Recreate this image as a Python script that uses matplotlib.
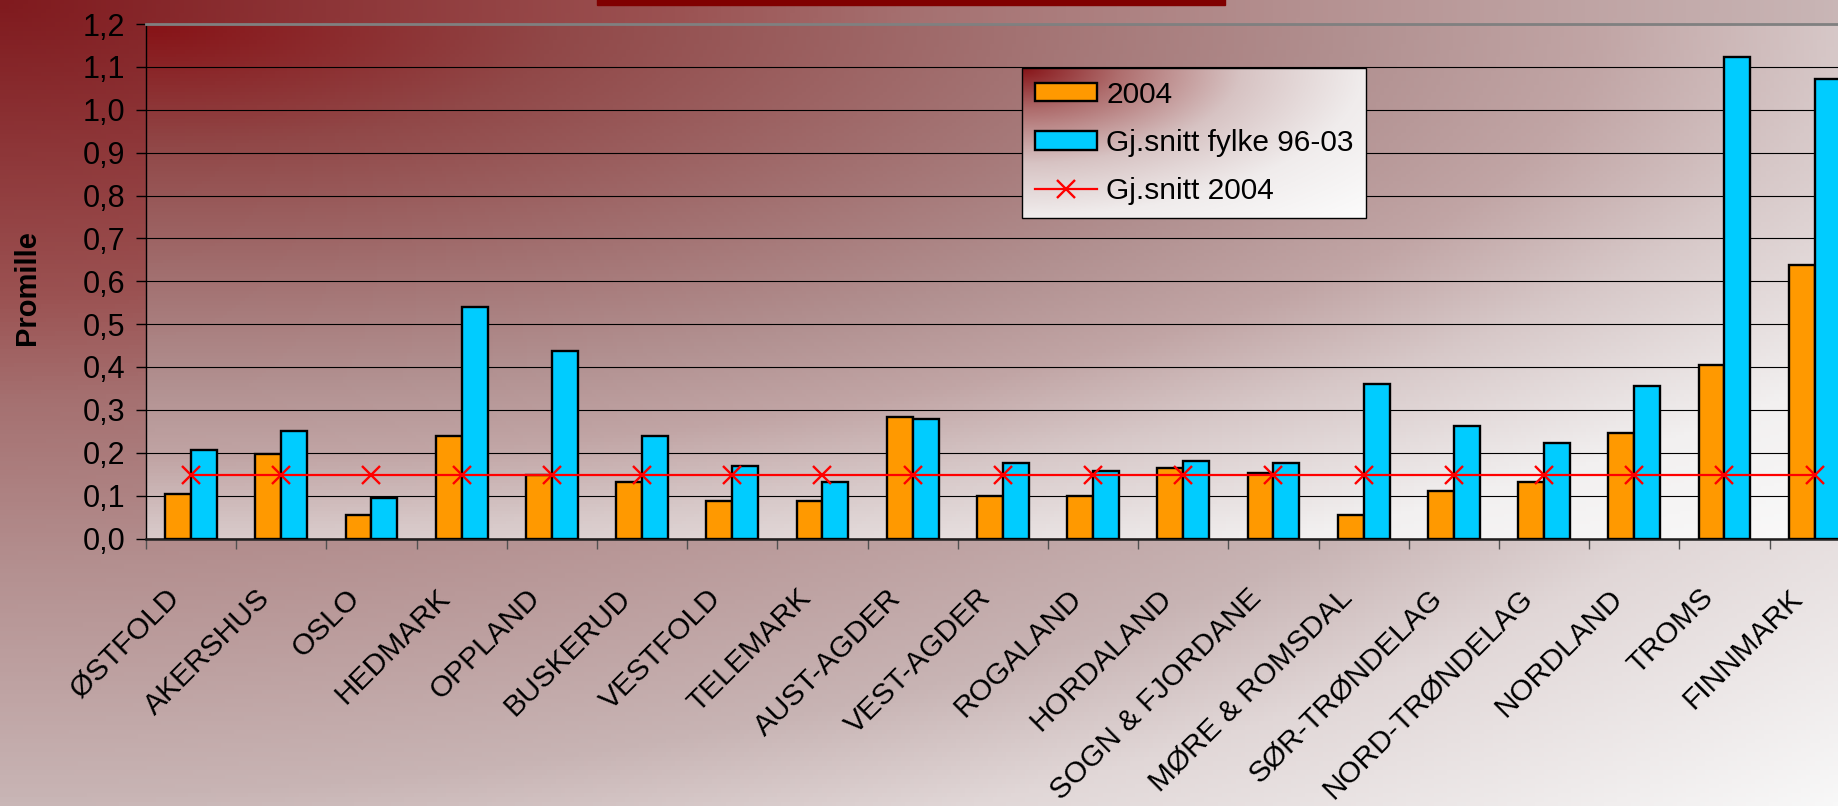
import numpy as np
import matplotlib
matplotlib.use("Agg")
import matplotlib.pyplot as plt
from matplotlib.transforms import ScaledTranslation
from matplotlib.patches import Rectangle, Patch
from matplotlib.lines import Line2D

plt.rcParams['font.family'] = ['Liberation Sans', 'DejaVu Sans']

categories = ["ØSTFOLD", "AKERSHUS", "OSLO", "HEDMARK", "OPPLAND", "BUSKERUD",
              "VESTFOLD", "TELEMARK", "AUST-AGDER", "VEST-AGDER", "ROGALAND",
              "HORDALAND", "SOGN & FJORDANE", "MØRE & ROMSDAL", "SØR-TRØNDELAG",
              "NORD-TRØNDELAG", "NORDLAND", "TROMS", "FINNMARK"]
values_2004 = [0.104, 0.196, 0.055, 0.240, 0.148, 0.131, 0.088, 0.088, 0.284, 0.099,
               0.099, 0.164, 0.153, 0.055, 0.110, 0.132, 0.245, 0.405, 0.638]
values_avg_96_03 = [0.207, 0.251, 0.094, 0.541, 0.437, 0.240, 0.169, 0.131, 0.279, 0.175,
                    0.158, 0.180, 0.175, 0.361, 0.262, 0.222, 0.355, 1.122, 1.072]
mean_2004 = 0.148
yticks = [0.0, 0.1, 0.2, 0.3, 0.4, 0.5, 0.6, 0.7, 0.8, 0.9, 1.0, 1.1, 1.2]
ytick_labels = ["0,0", "0,1", "0,2", "0,3", "0,4", "0,5", "0,6", "0,7", "0,8", "0,9", "1,0", "1,1", "1,2"]
legend_labels = ["2004", "Gj.snitt fylke 96-03", "Gj.snitt 2004"]

W, H = 1838, 806
fig = plt.figure(figsize=(W / 100, H / 100), dpi=100)


def gradient(nx, ny, pos, cols):
    u = np.linspace(0, 1, nx)
    v = np.linspace(0, 1, ny)
    U, V = np.meshgrid(u, v)
    r = np.sqrt(U ** 2 + V ** 2) / np.sqrt(2)
    cols = np.array(cols, dtype=float) / 255.0
    img = np.zeros((ny, nx, 3))
    for c in range(3):
        img[..., c] = np.interp(r, pos, cols[:, c])
    return img


fig_pos = [0.0, 0.26, 0.35, 0.5, 0.7, 0.8, 1.0]
fig_cols = [(128, 26, 30), (155, 82, 82), (165, 112, 112), (180, 144, 144),
            (200, 180, 180), (225, 215, 215), (248, 248, 248)]
plot_pos = [0.0, 0.17, 0.35, 0.5, 0.6, 0.7, 0.85, 1.0]
plot_cols = [(135, 18, 22), (145, 72, 72), (162, 112, 112), (178, 145, 145), (193, 165, 165),
             (215, 200, 200), (242, 240, 240), (250, 250, 250)]
leg_pos = [0.0, 0.2, 0.45, 0.7, 1.0]
leg_cols = [(135, 20, 24), (175, 110, 110), (215, 195, 195), (240, 236, 236), (252, 252, 252)]

# figure background
bg = fig.add_axes([0, 0, 1, 1], zorder=-10)
bg.imshow(gradient(400, 180, fig_pos, fig_cols), extent=[0, 1, 0, 1], aspect='auto')
bg.axis('off')

# title box (cut at top)
fig.patches.append(Rectangle((597 / W, 1 - 5 / H), 628 / W, 10 / H, transform=fig.transFigure,
                             facecolor='#800000', edgecolor='#800000', zorder=5))

left = 146 / W
width = 19 * 90.2 / W
bottom = 1 - 538.5 / H
top = 1 - 24 / H
ax = fig.add_axes([left, bottom, width, top - bottom])
ax.set_facecolor('none')
ax.imshow(gradient(400, 150, plot_pos, plot_cols), extent=[0, 1, 0, 1],
          transform=ax.transAxes, aspect='auto', zorder=0.1)

x = np.arange(len(categories))
bw = 0.288
ax.bar(x - bw / 2, values_2004, width=bw, color='#FF9900', edgecolor='black', linewidth=1.7, zorder=3)
ax.bar(x + bw / 2, values_avg_96_03, width=bw, color='#00CCFF', edgecolor='black', linewidth=1.7, zorder=3)
ax.plot(x, [mean_2004] * len(x), color='#FF0000', lw=1.6, marker='x', markersize=12.5,
        markeredgewidth=1.7, zorder=4)

ax.set_xlim(-0.5, 18.5)
ax.set_ylim(0, 1.2)
ax.set_axisbelow(True)
ax.yaxis.grid(True, color='black', lw=0.8)
ax.set_yticks(yticks)
ax.set_yticklabels(ytick_labels)
ax.tick_params(axis='y', length=7, width=1, pad=8, labelsize=22, color='black')
ax.set_xticks(np.arange(-0.5, 19, 1))
ax.set_xticklabels([])
ax.tick_params(axis='x', length=7, width=1, color='#505050')

ax.spines['left'].set_color('black')
ax.spines['left'].set_linewidth(1)
ax.spines['bottom'].set_color('#202020')
ax.spines['bottom'].set_linewidth(1.8)
ax.spines['top'].set_color('#808080')
ax.spines['top'].set_linewidth(2)
ax.spines['right'].set_visible(False)

off = ScaledTranslation(-0.16, -0.55, fig.dpi_scale_trans)
for i, name in enumerate(categories):
    ax.text(i, 0, name, transform=ax.transData + off, rotation=45, ha='right', va='center',
            rotation_mode='anchor', fontsize=21.5, color='black')

fig.text(27 / W, 1 - 288 / H, 'Promille', rotation=90, ha='center', va='center',
         fontsize=21, fontweight='bold')

handles = [Patch(facecolor='#FF9900', edgecolor='black', linewidth=1.7),
           Patch(facecolor='#00CCFF', edgecolor='black', linewidth=1.7),
           Line2D([0], [0], color='#FF0000', lw=1.6, marker='x', markersize=12.5, markeredgewidth=1.7)]
leg = ax.legend(handles, legend_labels, loc='upper left', bbox_to_anchor=(1022 / W, 1 - 68 / H),
                bbox_transform=fig.transFigure, frameon=True, fancybox=False, edgecolor='black',
                facecolor='none', framealpha=1, fontsize=21.5, handlelength=2.1, handleheight=0.6,
                handletextpad=0.3, labelspacing=0.68, borderpad=0.42, borderaxespad=0)
leg.get_frame().set_linewidth(1.0)
leg.set_zorder(5)

fig.canvas.draw()
bb = leg.get_window_extent()
inv = ax.transAxes.inverted()
(x0, y0), (x1, y1) = inv.transform([[bb.x0, bb.y0], [bb.x1, bb.y1]])
ax.imshow(gradient(200, 100, leg_pos, leg_cols), extent=[x0, x1, y0, y1],
          transform=ax.transAxes, aspect='auto', zorder=4.5)
ax.set_xlim(-0.5, 18.5)
ax.set_ylim(0, 1.2)

fig.savefig('out.png', dpi=100)
